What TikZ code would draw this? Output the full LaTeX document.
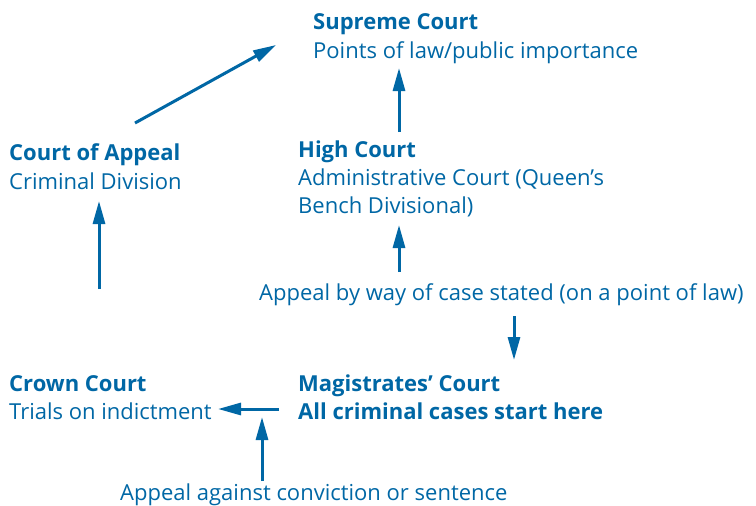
\documentclass[tikz,border=0pt]{standalone}
\usepackage{fontspec}
\setmainfont{Open Sans}
\usetikzlibrary{arrows.meta}
\definecolor{cblue}{RGB}{0,103,165}
\begin{document}
\begin{tikzpicture}[x=1pt,y=-1pt,
  txt/.style={anchor=base west, inner sep=0pt, text=cblue, font=\fontsize{22}{28}\selectfont},
  ttl/.style={anchor=base west, inner sep=0pt, text=cblue, font=\fontsize{22}{28}\selectfont\bfseries},
  arr/.style={draw=cblue, line width=3pt, -{Triangle[length=23pt,width=12pt]}}]
\useasboundingbox (0,0) rectangle (756,506);
% texts
\node[ttl] (sc) at (313,30) {Supreme Court};
\node[txt] (scd) at (313,58) {Points of law/public importance};
\node[ttl] (ca) at (9,160) {Court of Appeal};
\node[txt] (cad) at (9,189) {Criminal Division};
\node[ttl] (hc) at (298,157) {High Court};
\node[txt] (hcd1) at (298,185) {Administrative Court (Queen’s};
\node[txt] (hcd2) at (298,213) {Bench Divisional)};
\node[txt] (cs) at (259,300) {Appeal by way of case stated (on a point of law)};
\node[ttl] (cc) at (9,391) {Crown Court};
\node[txt] (ccd) at (9,419) {Trials on indictment};
\node[ttl] (mc) at (298,391) {Magistrates’ Court};
\node[ttl] (mcd) at (298,419) {All criminal cases start here};
\node[txt] (ac) at (120,500) {Appeal against conviction or sentence};
% arrow ends
\coordinate (a1s) at (135,123); \coordinate (a1e) at (276,45);
\coordinate (a2s) at (399,132); \coordinate (a2e) at (399,68);
\coordinate (a3s) at (99,289);  \coordinate (a3e) at (99,201);
\coordinate (a4s) at (399,272); \coordinate (a4e) at (399,225);
\coordinate (a5s) at (514,316); \coordinate (a5e) at (514,360);
\coordinate (a6s) at (279,409); \coordinate (a6e) at (218,409);
\coordinate (a7s) at (262,481); \coordinate (a7e) at (262,417);
\draw[arr] (a1s) -- (a1e);
\draw[arr] (a2s) -- (a2e);
\draw[arr] (a3s) -- (a3e);
\draw[arr] (a4s) -- (a4e);
\draw[arr] (a5s) -- (a5e);
\draw[arr] (a6s) -- (a6e);
\draw[arr] (a7s) -- (a7e);
\end{tikzpicture}
\end{document}
